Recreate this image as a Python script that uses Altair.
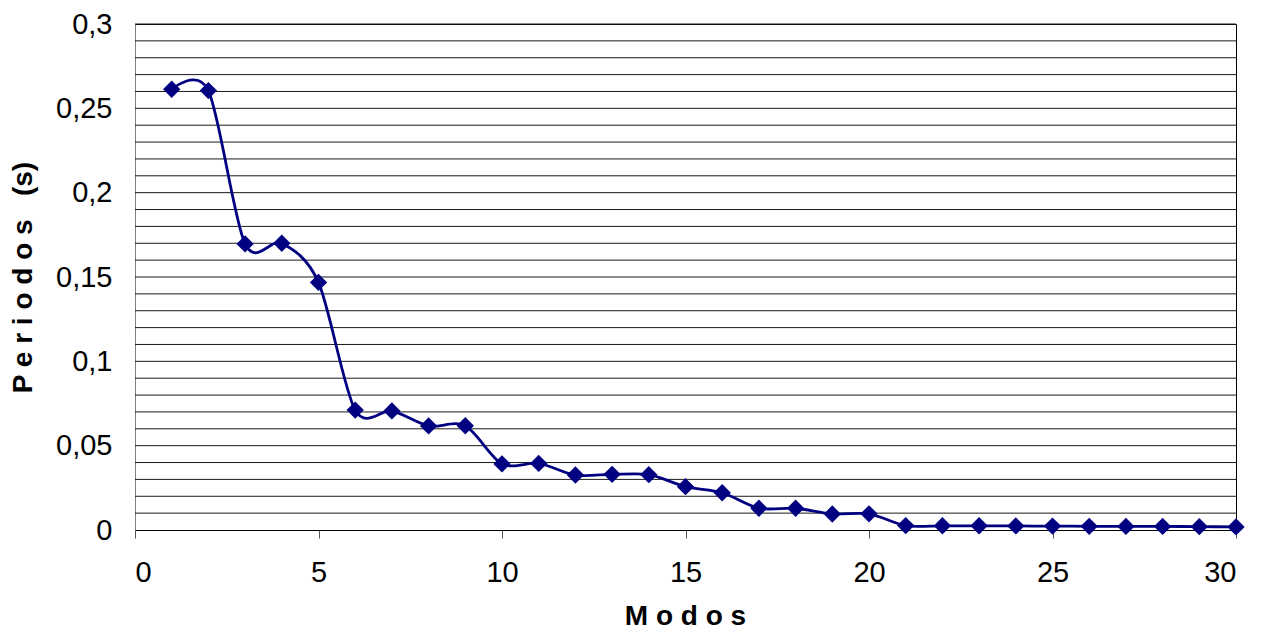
import altair as alt
import pandas as pd

modos = list(range(1, 31))
periodos = [0.2613, 0.2605, 0.1696, 0.1700, 0.1468, 0.0711, 0.0706, 0.0617, 0.0618, 0.0392,
            0.0395, 0.0326, 0.0330, 0.0328, 0.0257, 0.0221, 0.0129, 0.0129, 0.0095, 0.0096,
            0.0026, 0.0025, 0.0025, 0.0024, 0.0023, 0.0022, 0.0021, 0.0021, 0.0020, 0.0018]
x_ticks = [0, 5, 10, 15, 20, 25, 30]
y_ticks = [0, 0.05, 0.1, 0.15, 0.2, 0.25, 0.3]
y_grid = [round(i * 0.01, 2) for i in range(1, 31)]

df = pd.DataFrame({"Modos": modos, "Periodos": periodos})
grid_df = pd.DataFrame({"Periodos": y_grid})

FONT = "Liberation Sans"
NAVY = "#000080"

x_scale = alt.Scale(domain=[0, 30], nice=False, zero=False)
y_scale = alt.Scale(domain=[0, 0.3], nice=False)

x_axis = alt.Axis(
    title="M o d o s",
    values=x_ticks,
    grid=False,
    tickSize=8,
    tickColor="#555555",
    domainColor="#000000",
    labelPadding=20,
    labelFontSize=29,
    labelFont=FONT,
    labelColor="#000000",
    labelOverlap=False,
    titleFont=FONT,
    titleFontSize=28,
    titleFontWeight="bold",
    titleColor="#000000",
    titleX=550,
    titleY=86,
    titleBaseline="middle",
    titleAlign="center",
)
y_axis = alt.Axis(
    title="P e r i o d o s\u00a0\u00a0\u00a0(s)",
    values=y_ticks,
    ticks=False,
    tickSize=0,
    grid=False,
    domainColor="#808080",
    labelPadding=23,
    labelFontSize=29,
    labelFont=FONT,
    labelColor="#000000",
    labelOverlap=False,
    labelExpr="replace(format(datum.value, '.2~f'), '.', ',')",
    titleFont=FONT,
    titleFontSize=28,
    titleFontWeight="bold",
    titleColor="#000000",
    titleX=-112,
    titleY=253,
    titleAngle=270,
    titleBaseline="middle",
    titleAlign="center",
)

grid = alt.Chart(grid_df).mark_rule(color="#1a1a1a", strokeWidth=1).encode(
    y=alt.Y("Periodos:Q", scale=y_scale, axis=y_axis)
)

line = alt.Chart(df).mark_line(
    interpolate="cardinal", tension=0.1, color=NAVY, strokeWidth=2.8
).encode(
    x=alt.X("Modos:Q", scale=x_scale, axis=x_axis),
    y=alt.Y("Periodos:Q", scale=y_scale, axis=y_axis),
)

points = alt.Chart(df).mark_point(
    shape="diamond", filled=True, size=300, color=NAVY, opacity=1
).encode(
    x=alt.X("Modos:Q", scale=x_scale, axis=x_axis),
    y=alt.Y("Periodos:Q", scale=y_scale, axis=y_axis),
)

chart = (
    alt.layer(grid, line, points)
    .properties(
        width=1101,
        height=506,
        autosize=alt.AutoSizeParams(type="none"),
        padding={"left": 127, "top": 16, "right": 19, "bottom": 103},
        background="#ffffff",
    )
    .configure_view(stroke="#000000", strokeWidth=1)
)

chart.save("out.html", embed_options={"renderer": "svg", "actions": False})
